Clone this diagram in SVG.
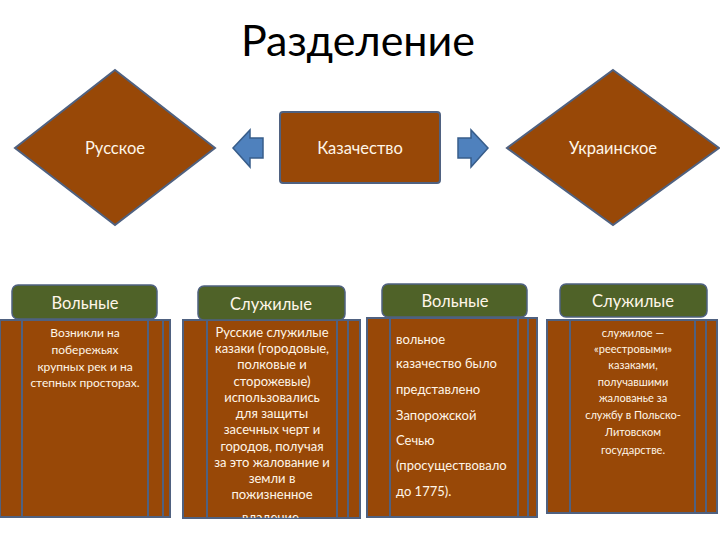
<svg xmlns="http://www.w3.org/2000/svg" width="720" height="540" viewBox="0 0 720 540">
<style>
.br{fill:#984807;stroke:#4F6180;stroke-width:2}
.ln{stroke:#4F6180;stroke-width:2}
.gr{fill:#4F6228;stroke:#4F6180;stroke-width:1.5}
.ar{fill:#4F81BD;stroke:#385D8A;stroke-width:1.5}
text{font-family:Lato,"Open Sans","Liberation Sans",sans-serif;fill:#FFF6E8}
.t16{font-size:16.5px;text-anchor:middle}
.t12{font-size:12px;text-anchor:middle}
.t13{font-size:13px;text-anchor:middle}
.t11{font-size:11px;text-anchor:middle}
.l13{font-size:13px}
</style>
<defs>
<clipPath id="c2"><rect x="183" y="320" width="177" height="198"/></clipPath>
</defs>
<rect width="720" height="540" fill="#ffffff"/>
<text x="358" y="56" style="font-size:43px;text-anchor:middle;fill:#000">Разделение</text>

<g id="russian">
<polygon class="br" points="115,70 215,148 115,225 15,148"/>
<text class="t16" x="115" y="154">Русское</text>
</g>
<g id="cossacks">
<rect class="br" x="280" y="112" width="160" height="71" rx="3"/>
<text class="t16" x="360" y="154">Казачество</text>
</g>
<g id="ukrainian">
<polygon class="br" points="613,70 719,148 613,225 507,148"/>
<text class="t16" x="613" y="154">Украинское</text>
</g>

<g id="connectors">
<polygon class="ar" points="233,148 250,130 250,138 263,138 263,158 250,158 250,167"/>
<polygon class="ar" points="488,148 471,130 471,138 458,138 458,158 471,158 471,167"/>
</g>

<g id="box1">
<rect class="br" x="0" y="320" width="170" height="197"/>
<line class="ln" x1="22" y1="320" x2="22" y2="517"/>
<line class="ln" x1="148" y1="320" x2="148" y2="517"/>
<line class="ln" x1="163" y1="320" x2="163" y2="517"/>
<text class="t12" x="85" y="337">Возникли на</text>
<text class="t12" x="85" y="354">побережьях</text>
<text class="t12" x="85" y="371">крупных рек и на</text>
<text class="t12" x="85" y="387">степных просторах.</text>
</g>
<g id="head1">
<rect class="gr" x="12" y="285" width="145" height="34" rx="6"/>
<text class="t16" x="85" y="309">Вольные</text>
</g>

<g id="box2">
<rect class="br" x="183" y="320" width="177" height="198"/>
<line class="ln" x1="207" y1="320" x2="207" y2="518"/>
<line class="ln" x1="337" y1="320" x2="337" y2="518"/>
<line class="ln" x1="348" y1="320" x2="348" y2="518"/>
<g clip-path="url(#c2)">
<text class="t13" x="272" y="337">Русские служилые</text>
<text class="t13" x="272" y="353">казаки (городовые,</text>
<text class="t13" x="272" y="369">полковые и</text>
<text class="t13" x="272" y="386">сторожевые)</text>
<text class="t13" x="272" y="402">использовались</text>
<text class="t13" x="272" y="418">для защиты</text>
<text class="t13" x="272" y="434">засечных черт и</text>
<text class="t13" x="272" y="451">городов, получая</text>
<text class="t13" x="272" y="467">за это жалование и</text>
<text class="t13" x="272" y="483">земли в</text>
<text class="t13" x="272" y="499">пожизненное</text>
<text class="t13" x="272" y="522">владение.</text>
</g>
</g>
<g id="head2">
<rect class="gr" x="198" y="286" width="147" height="34" rx="6"/>
<text class="t16" x="271" y="310">Служилые</text>
</g>

<g id="box3">
<rect class="br" x="367" y="318" width="170" height="199"/>
<line class="ln" x1="390" y1="318" x2="390" y2="517"/>
<line class="ln" x1="518" y1="318" x2="518" y2="517"/>
<line class="ln" x1="528" y1="318" x2="528" y2="517"/>
<text class="l13" x="396" y="344">вольное</text>
<text class="l13" x="396" y="368">казачество было</text>
<text class="l13" x="396" y="394">представлено</text>
<text class="l13" x="396" y="420">Запорожской</text>
<text class="l13" x="396" y="445">Сечью</text>
<text class="l13" x="396" y="470">(просуществовало</text>
<text class="l13" x="396" y="496">до 1775).</text>
</g>
<g id="head3">
<rect class="gr" x="382" y="284" width="145" height="33" rx="6"/>
<text class="t16" x="455" y="307">Вольные</text>
</g>

<g id="box4">
<rect class="br" x="547" y="320" width="170" height="193"/>
<line class="ln" x1="570" y1="320" x2="570" y2="513"/>
<line class="ln" x1="695" y1="320" x2="695" y2="513"/>
<line class="ln" x1="706" y1="320" x2="706" y2="513"/>
<text class="t11" x="633" y="337">служилое —</text>
<text class="t11" x="633" y="353">«реестровыми»</text>
<text class="t11" x="633" y="369">казаками,</text>
<text class="t11" x="633" y="386">получавшими</text>
<text class="t11" x="633" y="402">жалованье за</text>
<text class="t11" x="633" y="419">службу в Польско-</text>
<text class="t11" x="633" y="436">Литовском</text>
<text class="t11" x="633" y="454">государстве.</text>
</g>
<g id="head4">
<rect class="gr" x="560" y="284" width="147" height="33" rx="6"/>
<text class="t16" x="633" y="307">Служилые</text>
</g>
</svg>
